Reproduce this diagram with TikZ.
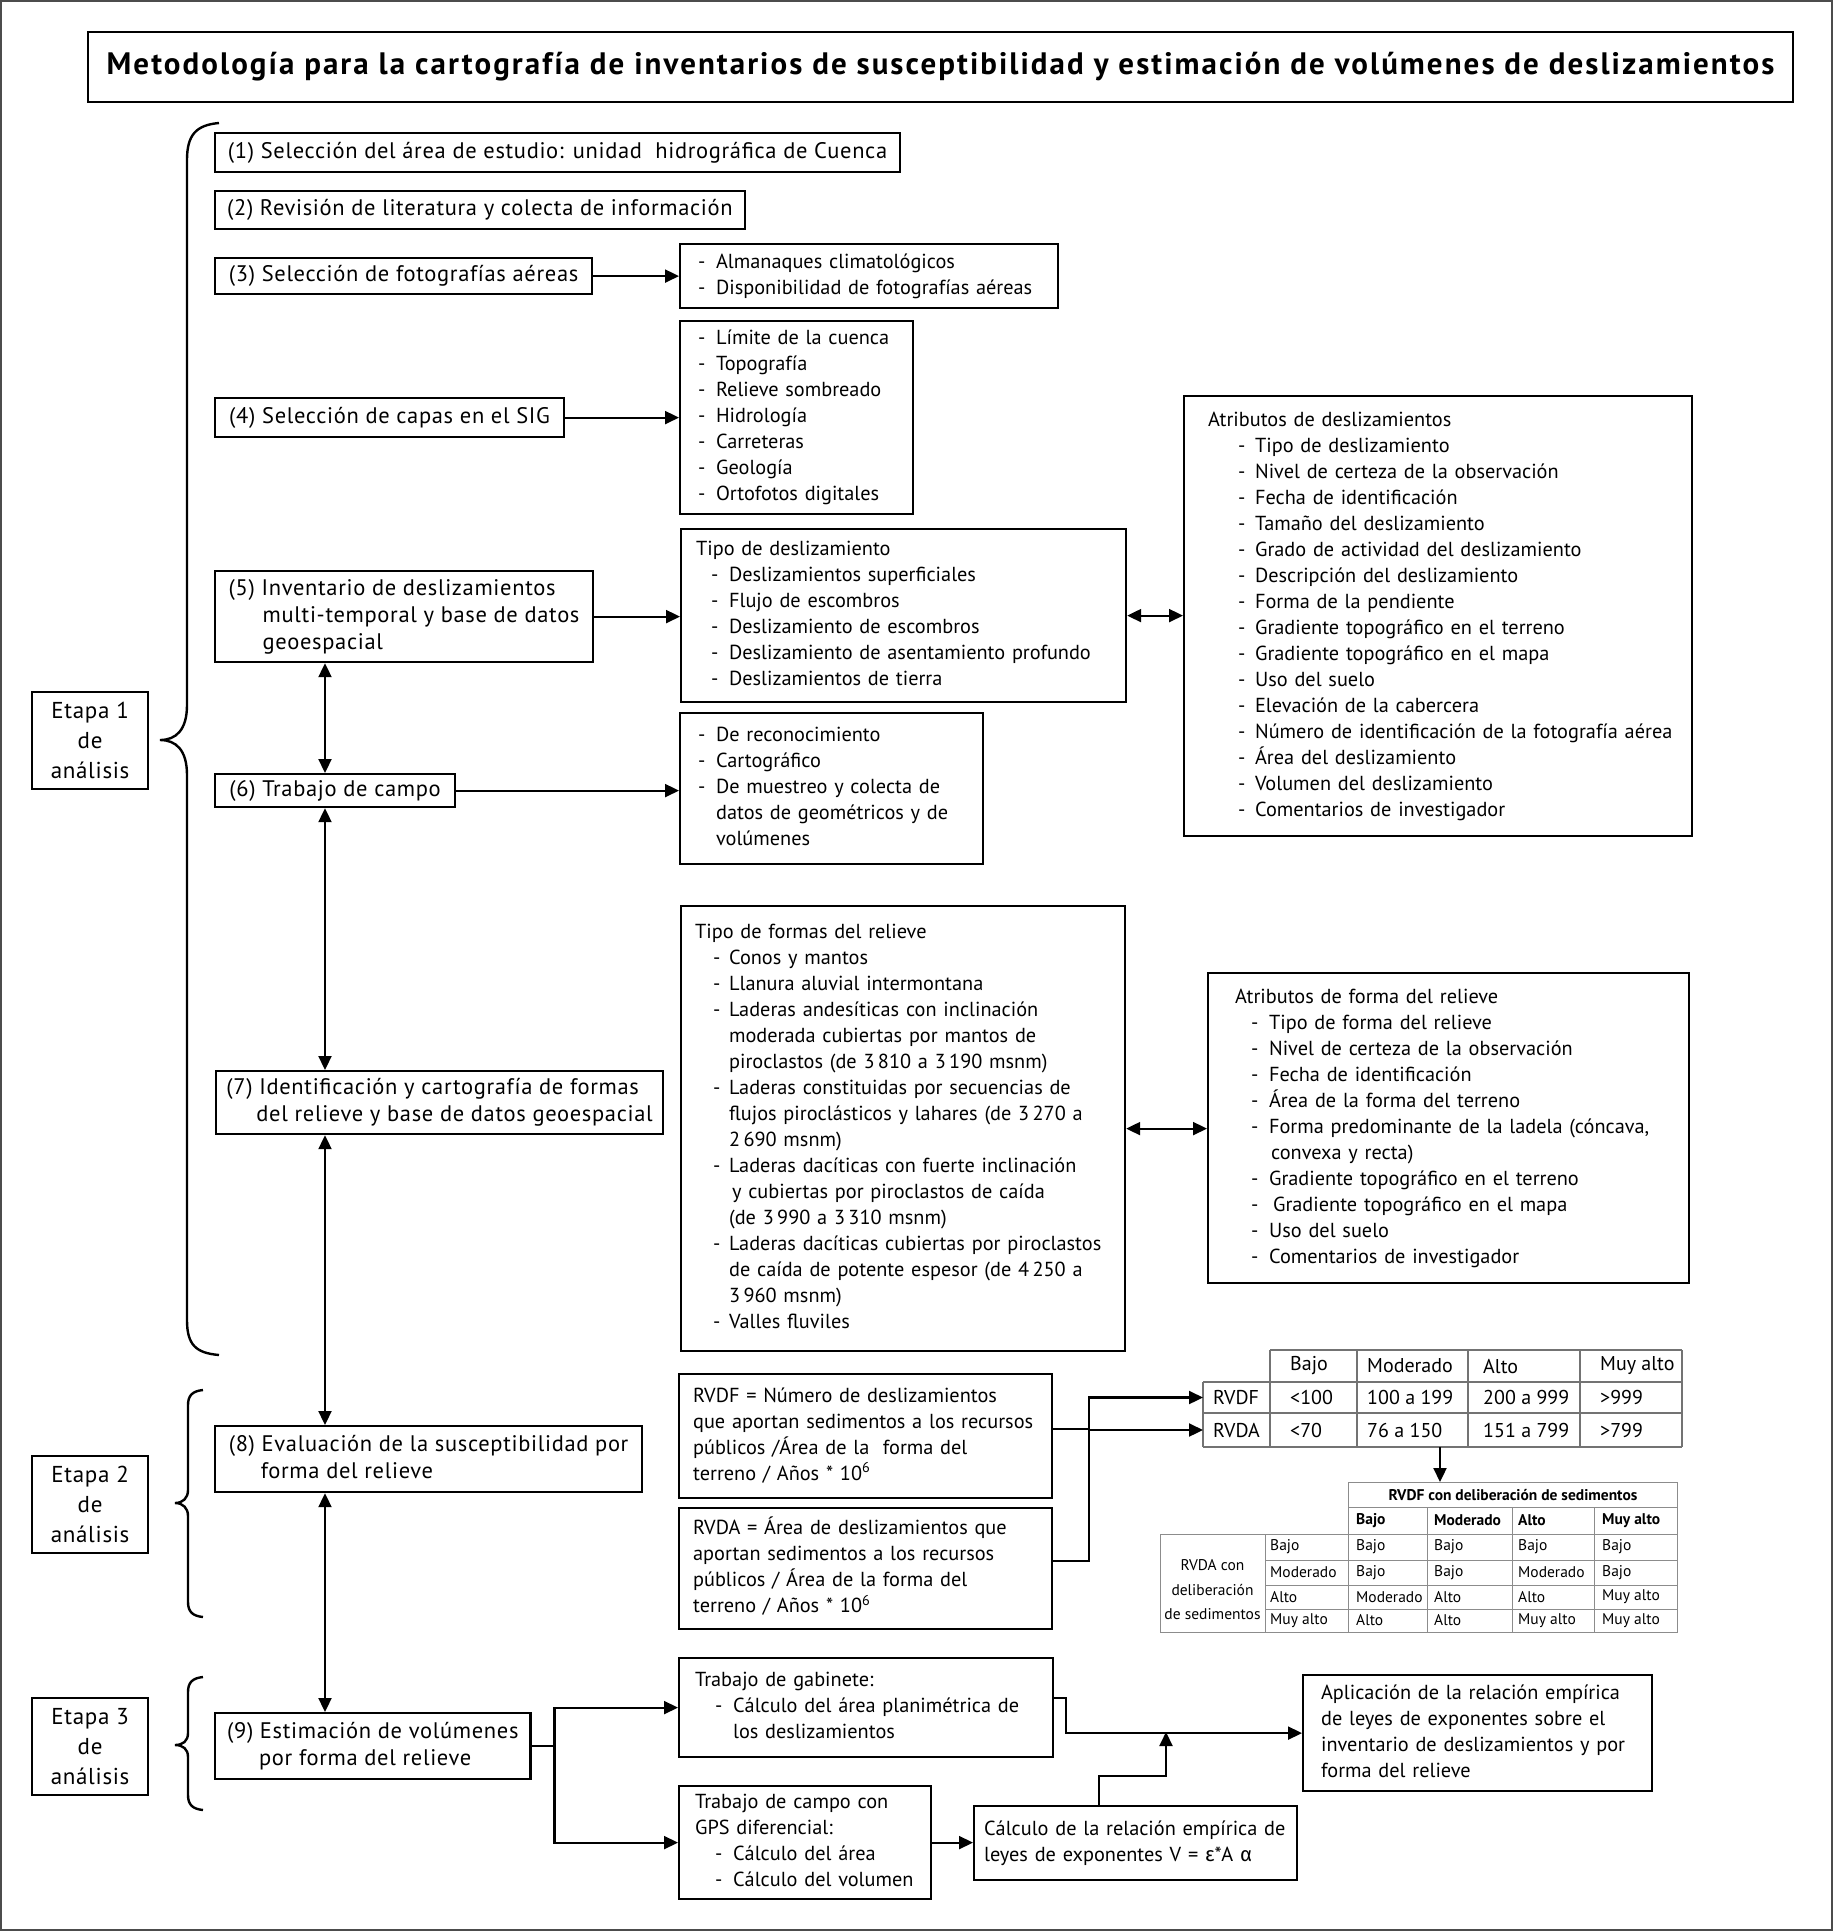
\documentclass[tikz,border=0pt]{standalone}
\usepackage{fontspec}
\setmainfont{PT Sans}
\newfontfamily\grk{Fira Sans}
\usetikzlibrary{arrows.meta}
\newlength{\itmind}
\newlength{\itmdash}
\newcommand{\itm}[1]{\hspace*{\itmind}\makebox[\itmdash][l]{-}#1}
\newcommand{\cnt}[1]{\hspace*{\dimexpr\itmind+\itmdash\relax}#1}
\newcommand{\rows}[1]{\noindent\begin{tabular}{@{}l@{}}#1\end{tabular}}
\newcommand{\bodyfont}{\fontsize{20.3}{26}\selectfont}
\newcommand{\stepfont}{\fontsize{22.5}{27}\selectfont\addfontfeature{LetterSpace=3}}
\newcommand{\etfont}{\fontsize{23}{30}\selectfont\addfontfeature{LetterSpace=3}}
\newcommand{\tabfont}{\fontsize{20}{24}\selectfont}
\newcommand{\smallfont}{\fontsize{15.5}{24}\selectfont}
\newcommand{\titlefont}{\fontsize{31}{36}\selectfont\bfseries\addfontfeature{LetterSpace=6.6}}

\begin{document}
\begin{tikzpicture}[x=1pt, y=-1pt,
    box/.style={draw, line width=2.2pt, anchor=north west, align=left, inner ysep=0pt, font=\bodyfont},
    stepbox/.style={box, font=\stepfont, inner xsep=12pt},
    lst/.style 2 args={execute at begin node={\setlength{\itmind}{#1}\setlength{\itmdash}{#2}}},
    arr/.style={line width=2.2pt, -{Triangle[length=14pt,width=13pt]}},
    darr/.style={line width=2.2pt, {Triangle[length=14pt,width=13pt]}-{Triangle[length=14pt,width=13pt]}},
    tline/.style={draw=black!55, line width=1.3pt},
    sline/.style={draw=black!45, line width=1pt},
    tcell/.style={anchor=west, inner sep=0pt, font=\tabfont},
    scell/.style={anchor=west, inner sep=0pt, font=\smallfont},
    brace/.style={line width=2.4pt}]
    \useasboundingbox (0,0) rectangle (1833,1931);
    \draw[black!70, line width=2pt] (1,1) rectangle (1832,1930);

    \node[draw, line width=2.6pt, minimum width=1705pt, minimum height=70pt, font=\titlefont] (title) at (940.5,67) {Metodología para la cartografía de inventarios de susceptibilidad y estimación de volúmenes de deslizamientos};

    % etapa 1
    \node[stepbox, minimum width=685pt, minimum height=39pt] (s1) at (214,132) {(1) Selección del área de estudio: unidad\ \ hidrográfica de Cuenca};
    \node[stepbox, minimum width=527pt, minimum height=38pt] (s2) at (214,190) {(2) Revisión de literatura y colecta de información};
    \node[stepbox, minimum width=377pt, minimum height=36pt] (s3) at (214,257) {(3) Selección de fotografías aéreas};
    \node[stepbox, minimum width=349pt, minimum height=39pt] (s4) at (214,397) {(4) Selección de capas en el SIG};
    \node[stepbox, minimum width=378pt, minimum height=91pt] (s5) at (214,570) {\rows{(5) Inventario de deslizamientos\\ \hspace*{34pt}multi-temporal y base de datos\\ \hspace*{34pt}geoespacial}};
    \node[stepbox, minimum width=240pt, minimum height=33pt] (s6) at (214,773) {(6) Trabajo de campo};
    \node[stepbox, inner xsep=9pt, minimum width=447pt, minimum height=63pt] (s7) at (215,1070) {\rows{(7) Identificación y cartografía de formas\\ \hspace*{30pt}del relieve y base de datos geoespacial}};

    \node[box, lst={0pt}{18pt}, inner xsep=18pt, text width=342pt, minimum height=64pt] (a3) at (679,243) {\rows{\itm{Almanaques climatológicos}\\ \itm{Disponibilidad de fotografías aéreas}}};
    \node[box, lst={0pt}{18pt}, inner xsep=18pt, text width=197pt, minimum height=193pt] (a4) at (679,320) {\rows{\itm{Límite de la cuenca}\\ \itm{Topografía}\\ \itm{Relieve sombreado}\\ \itm{Hidrología}\\ \itm{Carreteras}\\ \itm{Geología}\\ \itm{Ortofotos digitales}}};
    \node[box, lst={15pt}{18pt}, inner xsep=15pt, text width=415pt, minimum height=173pt] (a5) at (680,528) {\rows{Tipo de deslizamiento\\ \itm{Deslizamientos superficiales}\\ \itm{Flujo de escombros}\\ \itm{Deslizamiento de escombros}\\ \itm{Deslizamiento de asentamiento profundo}\\ \itm{Deslizamientos de tierra}}};
    \node[box, lst={0pt}{18pt}, inner xsep=18pt, text width=267pt, minimum height=151pt] (a6) at (679,712) {\rows{\itm{De reconocimiento}\\ \itm{Cartográfico}\\ \itm{De muestreo y colecta de}\\ \cnt{datos de geométricos y de}\\ \cnt{volúmenes}}};
    \node[box, lst={18pt}{16pt}, inner xsep=14pt, text width=416pt, minimum height=445pt] (a7) at (680,905) {\rows{Tipo de formas del relieve\\ \itm{Conos y mantos}\\ \itm{Llanura aluvial intermontana}\\ \itm{Laderas andesíticas con inclinación}\\ \cnt{moderada cubiertas por mantos de}\\ \cnt{piroclastos (de 3\,810 a 3\,190 msnm)}\\ \itm{Laderas constituidas por secuencias de}\\ \cnt{flujos piroclásticos y lahares (de 3\,270 a}\\ \cnt{2\,690 msnm)}\\ \itm{Laderas dacíticas con fuerte inclinación}\\ \cnt{\hspace*{3pt}y cubiertas por piroclastos de caída}\\ \cnt{(de 3\,990 a 3\,310 msnm)}\\ \itm{Laderas dacíticas cubiertas por piroclastos}\\ \cnt{de caída de potente espesor (de 4\,250 a}\\ \cnt{3\,960 msnm)}\\ \itm{Valles fluviles}}};

    \node[box, lst={30pt}{17pt}, inner xsep=24pt, text width=460pt, minimum height=440pt] (atr) at (1183,395) {\rows{Atributos de deslizamientos\\ \itm{Tipo de deslizamiento}\\ \itm{Nivel de certeza de la observación}\\ \itm{Fecha de identificación}\\ \itm{Tamaño del deslizamiento}\\ \itm{Grado de actividad del deslizamiento}\\ \itm{Descripción del deslizamiento}\\ \itm{Forma de la pendiente}\\ \itm{Gradiente topográfico en el terreno}\\ \itm{Gradiente topográfico en el mapa}\\ \itm{Uso del suelo}\\ \itm{Elevación de la cabercera}\\ \itm{Número de identificación de la fotografía aérea}\\ \itm{Área del deslizamiento}\\ \itm{Volumen del deslizamiento}\\ \itm{Comentarios de investigador}}};
    \node[box, lst={16pt}{18pt}, inner xsep=27pt, text width=427pt, minimum height=310pt] (atf) at (1207,972) {\rows{Atributos de forma del relieve\\ \itm{Tipo de forma del relieve}\\ \itm{Nivel de certeza de la observación}\\ \itm{Fecha de identificación}\\ \itm{Área de la forma del terreno}\\ \itm{Forma predominante de la ladela (cóncava,}\\ \cnt{\hspace*{2pt}convexa y recta)}\\ \itm{Gradiente topográfico en el terreno}\\ \itm{\hspace*{4pt}Gradiente topográfico en el mapa}\\ \itm{Uso del suelo}\\ \itm{Comentarios de investigador}}};

    \draw[arr] (s3.east) -- (s3.east -| a3.west);
    \draw[arr] (s4.east) -- (s4.east -| a4.west);
    \draw[arr] (s5.east) -- (s5.east -| a5.west);
    \draw[arr] (s6.east) -- (s6.east -| a6.west);
    \draw[darr] (a5.east) -- (a5.east -| atr.west);
    \draw[darr] (a7.east) -- (a7.east -| atf.west);

    % etapa 2
    \node[stepbox, minimum width=427pt, minimum height=66pt] (s8) at (214,1425) {\rows{(8) Evaluación de la susceptibilidad por\\ \hspace*{32pt}forma del relieve}};
    \node[box, inner xsep=14pt, text width=345pt, minimum height=124pt] (rvdf) at (678,1373) {\rows{RVDF = Número de deslizamientos\\ que aportan sedimentos a los recursos\\ públicos /Área de la\ \ forma del\\ terreno / Años * 10\textsuperscript{6}}};
    \node[box, inner xsep=14pt, text width=345pt, minimum height=121pt] (rvda) at (678,1507) {\rows{RVDA = Área de deslizamientos que\\ aportan sedimentos a los recursos\\ públicos / Área de la forma del\\ terreno / Años * 10\textsuperscript{6}}};

    \draw[tline] (1270,1350) -- (1682,1350);
    \draw[tline] (1203,1382) -- (1682,1382);
    \draw[tline] (1203,1413) -- (1682,1413);
    \draw[tline] (1203,1447) -- (1682,1447);
    \draw[tline] (1203,1382) -- (1203,1447);
    \draw[tline] (1270,1350) -- (1270,1447);
    \draw[tline] (1357,1350) -- (1357,1447);
    \draw[tline] (1468,1350) -- (1468,1447);
    \draw[tline] (1580,1350) -- (1580,1447);
    \draw[tline] (1682,1350) -- (1682,1447);
    \node[tcell] (t1hb) at (1290,1366) {Bajo};
    \node[tcell] (t1hm) at (1367,1366) {Moderado};
    \node[tcell] (t1ha) at (1483,1366) {Alto};
    \node[tcell] (t1hu) at (1600,1366) {Muy alto};
    \node[tcell, inner xsep=10pt] (rvdfl) at (1203,1397.5) {RVDF};
    \node[tcell] (t1fb) at (1290,1397.5) {<100};
    \node[tcell] (t1fm) at (1367,1397.5) {100 a 199};
    \node[tcell] (t1fa) at (1483,1397.5) {200 a 999};
    \node[tcell] (t1fu) at (1600,1397.5) {>999};
    \node[tcell, inner xsep=10pt] (rvdal) at (1203,1430) {RVDA};
    \node[tcell] (t1ab) at (1290,1430) {<70};
    \node[tcell] (t1am) at (1367,1430) {76 a 150};
    \node[tcell] (t1aa) at (1483,1430) {151 a 799};
    \node[tcell] (t1au) at (1600,1430) {>799};
    \coordinate (t1b) at (1440,1447);

    \draw[arr] ([yshift=7pt]rvdf.east) -- ++(36,0) |- (rvdfl.west);
    \draw[arr] ([yshift=7.5pt]rvda.east) -- ++(36,0) |- (rvdal.west);

    \node[draw=black!45, line width=1pt, anchor=north west, minimum width=329pt, minimum height=25pt, inner sep=0pt, font=\smallfont\bfseries] (t2t) at (1348,1482) {RVDF con deliberación de sedimentos};
    \draw[arr] (t1b) -- (t1b |- t2t.north);
    \draw[sline] (1348,1507) -- (1348,1534);
    \draw[sline] (1427,1507) -- (1427,1632);
    \draw[sline] (1512,1507) -- (1512,1632);
    \draw[sline] (1594,1507) -- (1594,1632);
    \draw[sline] (1677,1507) -- (1677,1534);
    \draw[sline] (1160,1534) rectangle (1677,1632);
    \draw[sline] (1265,1534) -- (1265,1632);
    \draw[sline] (1348,1534) -- (1348,1632);
    \draw[sline] (1265,1560) -- (1677,1560);
    \draw[sline] (1265,1585) -- (1677,1585);
    \draw[sline] (1265,1609) -- (1677,1609);
    \node[scell, font=\smallfont\bfseries] (t2hb) at (1356,1520.5) {Bajo};
    \node[scell, font=\smallfont\bfseries] (t2hm) at (1434,1520.5) {Moderado};
    \node[scell, font=\smallfont\bfseries] (t2ha) at (1518,1520.5) {Alto};
    \node[scell, font=\smallfont\bfseries] (t2hu) at (1602,1520.5) {Muy alto};
    \node[scell, anchor=center, align=center, font=\fontsize{15.5}{24.5}\selectfont] (t2l) at (1212.5,1590) {RVDA con\\deliberación\\de sedimentos};
    \node[scell] (t2r1) at (1270,1547) {Bajo};
    \node[scell] (t2r1c1) at (1356,1547) {Bajo};
    \node[scell] (t2r1c2) at (1434,1547) {Bajo};
    \node[scell] (t2r1c3) at (1518,1547) {Bajo};
    \node[scell] (t2r1c4) at (1602,1547) {Bajo};
    \node[scell] (t2r2) at (1270,1572.5) {Moderado};
    \node[scell] (t2r2c1) at (1356,1572.5) {Bajo};
    \node[scell] (t2r2c2) at (1434,1572.5) {Bajo};
    \node[scell] (t2r2c3) at (1518,1572.5) {Moderado};
    \node[scell] (t2r2c4) at (1602,1572.5) {Bajo};
    \node[scell] (t2r3) at (1270,1597) {Alto};
    \node[scell] (t2r3c1) at (1356,1597) {Moderado};
    \node[scell] (t2r3c2) at (1434,1597) {Alto};
    \node[scell] (t2r3c3) at (1518,1597) {Alto};
    \node[scell] (t2r3c4) at (1602,1597) {Muy alto};
    \node[scell] (t2r4) at (1270,1620.5) {Muy alto};
    \node[scell] (t2r4c1) at (1356,1620.5) {Alto};
    \node[scell] (t2r4c2) at (1434,1620.5) {Alto};
    \node[scell] (t2r4c3) at (1518,1620.5) {Muy alto};
    \node[scell] (t2r4c4) at (1602,1620.5) {Muy alto};

    % etapa 3
    \node[stepbox, minimum width=314pt, minimum height=66pt] (s9) at (214,1712) {\rows{(9) Estimación de volúmenes\\ \hspace*{32pt}por forma del relieve}};
    \node[box, lst={20pt}{18pt}, inner xsep=16pt, text width=342pt, minimum height=99pt] (gab) at (678,1657) {\rows{Trabajo de gabinete:\\ \itm{Cálculo del área planimétrica de}\\ \cnt{los deslizamientos}}};
    \node[box, lst={20pt}{18pt}, inner xsep=16pt, text width=220pt, minimum height=113pt] (gps) at (678,1785) {\rows{Trabajo de campo con\\ GPS diferencial:\\ \itm{Cálculo del área}\\ \itm{Cálculo del volumen}}};
    \node[box, inner xsep=10pt, text width=303pt, minimum height=74pt] (calc) at (973,1805) {\rows{Cálculo de la relación empírica de\\ leyes de exponentes V = {\grk ε}*A {\grk α}}};
    \node[box, inner xsep=18pt, text width=313pt, minimum height=116pt] (apl) at (1302,1674) {\rows{Aplicación de la relación empírica\\ de leyes de exponentes sobre el\\ inventario de deslizamientos y por\\ forma del relieve}};
    \coordinate (meet) at (1166,1732);

    \draw[line width=2.2pt] (s9.east) -- ++(23,0) coordinate (j9);
    \draw[arr] (j9) |- (gab.west);
    \draw[arr] (j9) |- (gps.west);
    \draw[arr] (gps.east) -- (gps.east -| calc.west);
    \draw[arr] ([yshift=10pt]gab.east) -- ++(12,0) |- (apl.west);
    \draw[arr] ([xshift=-37pt]calc.north) -- ++(0,-29) -| (meet);

    % flechas entre pasos
    \coordinate (vx) at (325,0);
    \draw[darr] (s5.south -| vx) -- (s6.north -| vx);
    \draw[darr] (s6.south -| vx) -- (s7.north -| vx);
    \draw[darr] (s7.south -| vx) -- (s8.north -| vx);
    \draw[darr] (s8.south -| vx) -- (s9.north -| vx);

    % etapas
    \node[box, align=center, font=\etfont, minimum width=116pt, minimum height=97pt] (et1) at (31,691) {Etapa 1\\de\\análisis};
    \node[box, align=center, font=\etfont, minimum width=116pt, minimum height=97pt] (et2) at (31,1455) {Etapa 2\\de\\análisis};
    \node[box, align=center, font=\etfont, minimum width=116pt, minimum height=97pt] (et3) at (31,1697) {Etapa 3\\de\\análisis};
    \draw[brace] (219,123) .. controls (196,125) and (187,135) .. (187,160) -- (187,705) .. controls (187,730) and (176,740) .. (160,740) .. controls (176,740) and (187,750) .. (187,775) -- (187,1320) .. controls (187,1345) and (196,1353) .. (219,1355);
    \draw[brace] (203,1390) .. controls (193,1391) and (188,1395) .. (188,1405) -- (188,1490) .. controls (188,1498) and (183,1503) .. (175,1503) .. controls (183,1503) and (188,1508) .. (188,1516) -- (188,1602) .. controls (188,1612) and (193,1616) .. (203,1617);
    \draw[brace] (203,1677) .. controls (193,1678) and (188,1682) .. (188,1692) -- (188,1733) .. controls (188,1741) and (183,1745) .. (175,1745) .. controls (183,1745) and (188,1749) .. (188,1757) -- (188,1795) .. controls (188,1805) and (193,1809) .. (203,1810);
\end{tikzpicture}
\end{document}
